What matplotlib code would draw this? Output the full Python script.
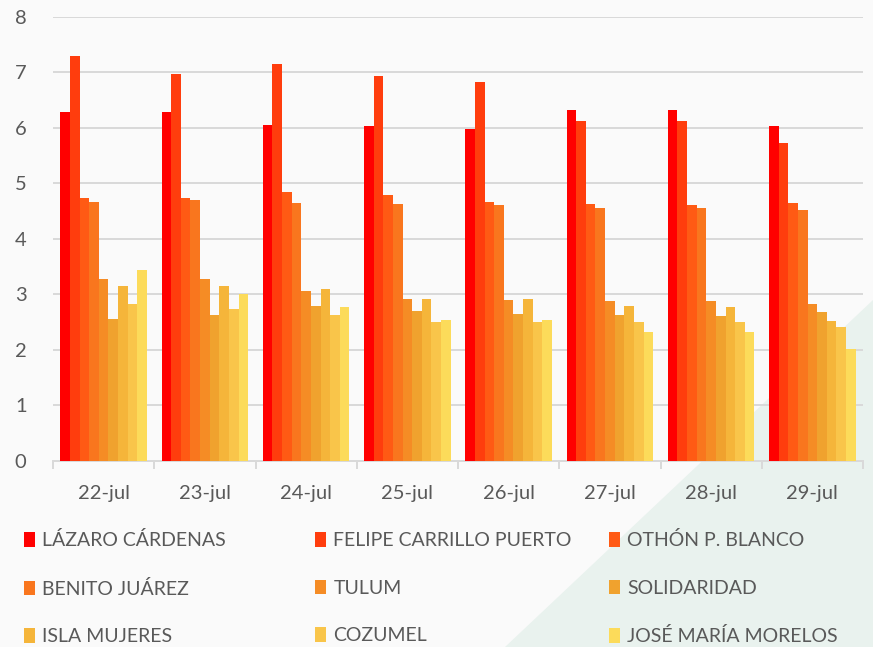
import matplotlib.pyplot as plt
import numpy as np
from matplotlib.patches import Polygon, Patch

plt.rcParams['font.family'] = ['Lato', 'DejaVu Sans']

fechas = ['22-jul', '23-jul', '24-jul', '25-jul', '26-jul', '27-jul', '28-jul', '29-jul']
municipios = ['LÁZARO CÁRDENAS', 'FELIPE CARRILLO PUERTO', 'OTHÓN P. BLANCO',
              'BENITO JUÁREZ', 'TULUM', 'SOLIDARIDAD',
              'ISLA MUJERES', 'COZUMEL', 'JOSÉ MARÍA MORELOS']
colores = ['#FF0000', '#FF3D0D', '#FF5A14', '#F9761E', '#F58C25',
           '#F0A22E', '#F5B53A', '#F9C54A', '#FCDB5A']

# valores por municipio (una lista por fecha)
lazaro = [6.29, 6.29, 6.06, 6.03, 5.98, 6.33, 6.33, 6.04]
felipe = [7.30, 6.97, 7.15, 6.94, 6.83, 6.13, 6.13, 5.73]
othon = [4.74, 4.74, 4.85, 4.79, 4.67, 4.63, 4.61, 4.65]
benito = [4.67, 4.69, 4.65, 4.63, 4.61, 4.56, 4.56, 4.52]
tulum = [3.28, 3.28, 3.06, 2.92, 2.90, 2.87, 2.87, 2.83]
solidaridad = [2.56, 2.63, 2.78, 2.69, 2.65, 2.63, 2.60, 2.67]
isla = [3.14, 3.14, 3.10, 2.92, 2.92, 2.78, 2.76, 2.51]
cozumel = [2.83, 2.73, 2.63, 2.49, 2.49, 2.49, 2.49, 2.40]
jose_maria = [3.43, 3.00, 2.76, 2.53, 2.53, 2.31, 2.31, 2.02]
series = [lazaro, felipe, othon, benito, tulum, solidaridad, isla, cozumel, jose_maria]

fig = plt.figure(figsize=(8.73, 6.47), dpi=100)
fig.patch.set_facecolor('#FAFAFA')
# franja verde diagonal del fondo
fig.patches.append(Polygon([(1.0, 1 - 300 / 647), (1.0, 0.0), (505 / 873, 0.0)],
                           closed=True, transform=fig.transFigure,
                           facecolor='#E9F2EE', edgecolor='none', zorder=-10))

ax = fig.add_axes([53 / 873, 1 - 460.5 / 647, (863 - 53) / 873, (460.5 - 17) / 647])
ax.set_facecolor('none')

x = np.arange(len(fechas))
n = len(series)
ancho = 0.855 / n
for i, (vals, c) in enumerate(zip(series, colores)):
    ax.bar(x - 0.855 / 2 + ancho * (i + 0.5), vals, width=ancho, color=c,
           edgecolor='none', zorder=3)

ax.set_xlim(-0.5, len(fechas) - 0.5)
ax.set_ylim(0, 8)
ax.set_yticks(range(0, 9))
ax.yaxis.grid(True, color='#D9D9D9', linewidth=1.4, zorder=0)
ax.set_axisbelow(True)
for s in ['top', 'right', 'left']:
    ax.spines[s].set_visible(False)
ax.spines['bottom'].set_color('#D9D9D9')
ax.spines['bottom'].set_linewidth(1.4)

ax.set_xticks(x)
ax.set_xticklabels(fechas)
ax.set_xticks(np.arange(-0.5, len(fechas)), minor=True)
ax.tick_params(axis='x', which='major', length=0, pad=18, labelsize=14.5, labelcolor='#595959')
ax.tick_params(axis='x', which='minor', length=6, width=1.4, color='#D9D9D9')
ax.tick_params(axis='y', length=0, pad=19, labelsize=14.5, labelcolor='#595959')

# leyenda en tres columnas
col_x = [16 / 873, 307 / 873, 601 / 873]
col_y = [523.5, 524.4, 523.5]
for j in range(3):
    handles = [Patch(facecolor=colores[j + 3 * r], edgecolor='none') for r in range(3)]
    labels = [municipios[j + 3 * r] for r in range(3)]
    leg = fig.legend(handles, labels, loc='upper left',
                     bbox_to_anchor=(col_x[j], 1 - col_y[j] / 647), frameon=False,
                     fontsize=14, handlelength=0.6, handleheight=0.75,
                     handletextpad=0.35, labelspacing=1.57, borderaxespad=0)
    for t in leg.get_texts():
        t.set_color('#595959')

fig.savefig('out.png', dpi=100, facecolor=fig.get_facecolor())
